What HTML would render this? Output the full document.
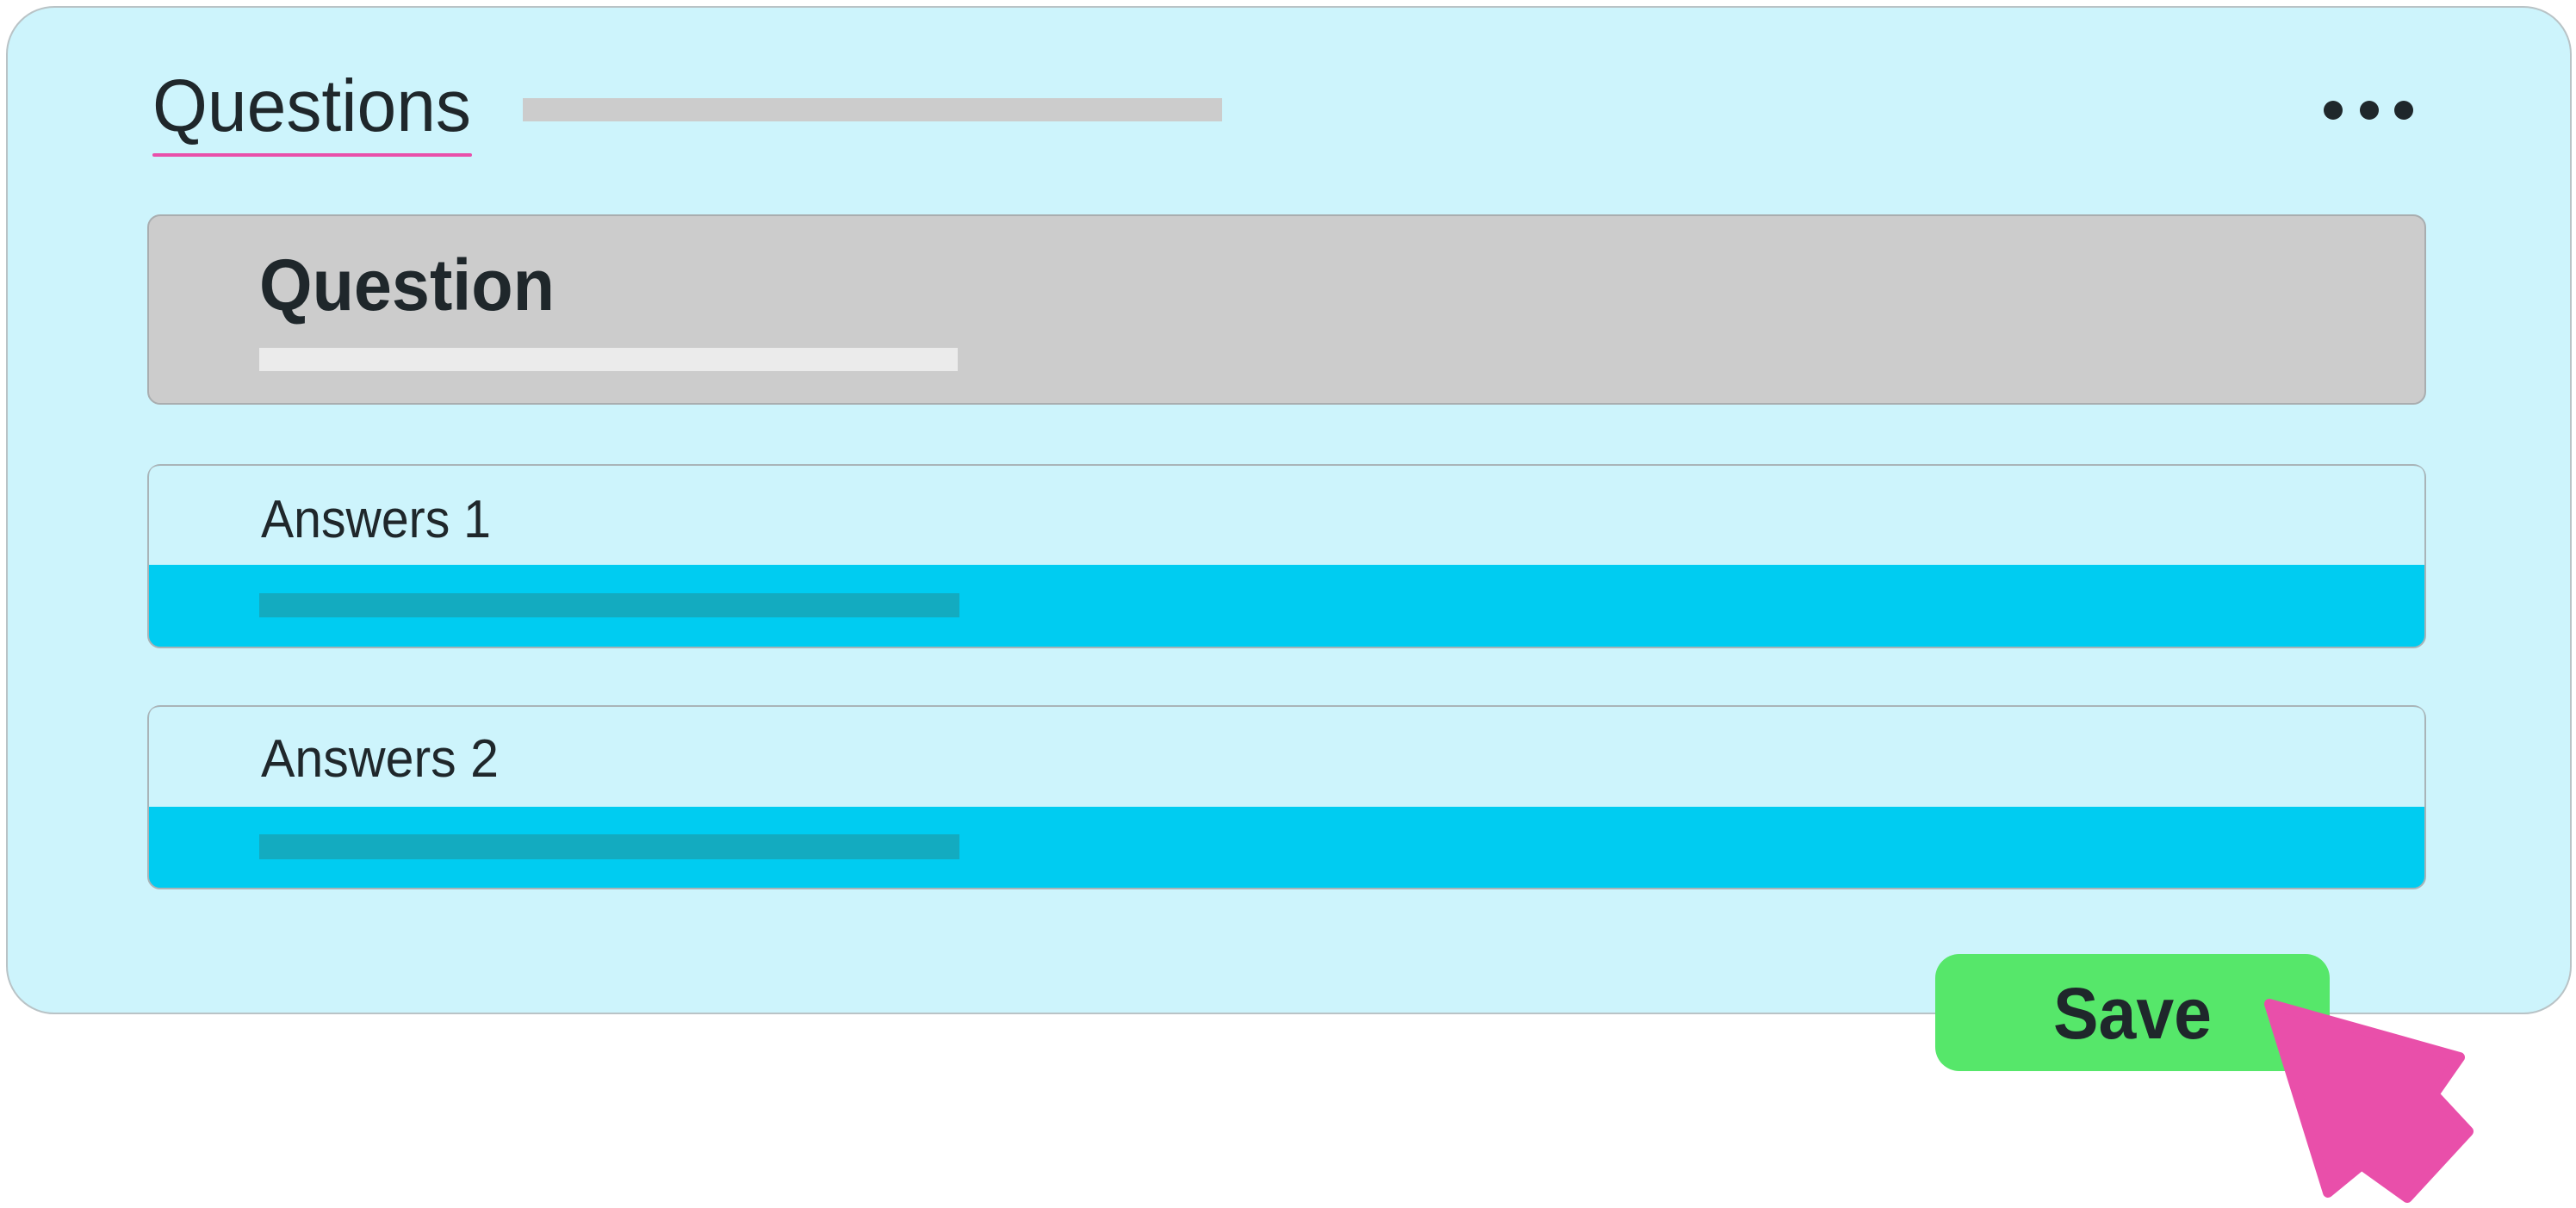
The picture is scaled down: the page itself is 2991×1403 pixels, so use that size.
<!DOCTYPE html>
<html><head><meta charset="utf-8"><style>html,body{margin:0;padding:0;background:#fff}svg{display:block}</style></head>
<body>
<svg width="2991" height="1403" viewBox="0 0 2991 1403" xmlns="http://www.w3.org/2000/svg" font-family="Liberation Sans, sans-serif">
<rect x="8" y="8" width="2977" height="1169" rx="55" fill="#cdf4fc" stroke="#b9c3c6" stroke-width="2"/>
<text x="177" y="152" font-size="85" fill="#1f272b" textLength="370" lengthAdjust="spacingAndGlyphs">Questions</text>
<rect x="177" y="178" width="371" height="4" rx="2" fill="#e94faa"/>
<rect x="607" y="114" width="812" height="27" fill="#cccccc"/>
<circle cx="2709" cy="128" r="11" fill="#1f272b"/>
<circle cx="2751" cy="128" r="11" fill="#1f272b"/>
<circle cx="2791" cy="128" r="11" fill="#1f272b"/>
<rect x="172" y="250" width="2644" height="219" rx="14" fill="#cccccc" stroke="#a9adaf" stroke-width="2"/>
<text x="301" y="360" font-size="84" font-weight="bold" fill="#1f272b" textLength="343" lengthAdjust="spacingAndGlyphs">Question</text>
<rect x="301" y="404" width="811" height="27" fill="#ebebeb"/>
<g>
<rect x="172" y="540" width="2644" height="212" rx="14" fill="#00ccf1" stroke="#a9b4b8" stroke-width="2"/>
<path d="M173 656 V554 Q173 541 186 541 H2802 Q2815 541 2815 554 V656 Z" fill="#cdf4fc"/>
<text x="303" y="624" font-size="62" fill="#1f272b" textLength="267" lengthAdjust="spacingAndGlyphs">Answers 1</text>
<rect x="301" y="689" width="813" height="28" fill="#13abc0"/>
</g>
<g>
<rect x="172" y="820" width="2644" height="212" rx="14" fill="#00ccf1" stroke="#a9b4b8" stroke-width="2"/>
<path d="M173 937 V834 Q173 821 186 821 H2802 Q2815 821 2815 834 V937 Z" fill="#cdf4fc"/>
<text x="303" y="902" font-size="62" fill="#1f272b" textLength="276" lengthAdjust="spacingAndGlyphs">Answers 2</text>
<rect x="301" y="969" width="813" height="29" fill="#13abc0"/>
</g>
<rect x="2247" y="1108" width="458" height="136" rx="28" fill="#56e76a"/>
<text x="2384" y="1206" font-size="84" font-weight="bold" fill="#1f272b" textLength="184" lengthAdjust="spacingAndGlyphs">Save</text>
<polygon points="2635,1166 2856,1228 2826,1271 2866,1314 2795,1391 2742,1353 2703,1385" fill="#e94faa" stroke="#e94faa" stroke-width="12" stroke-linejoin="round"/>
</svg>
</body></html>
